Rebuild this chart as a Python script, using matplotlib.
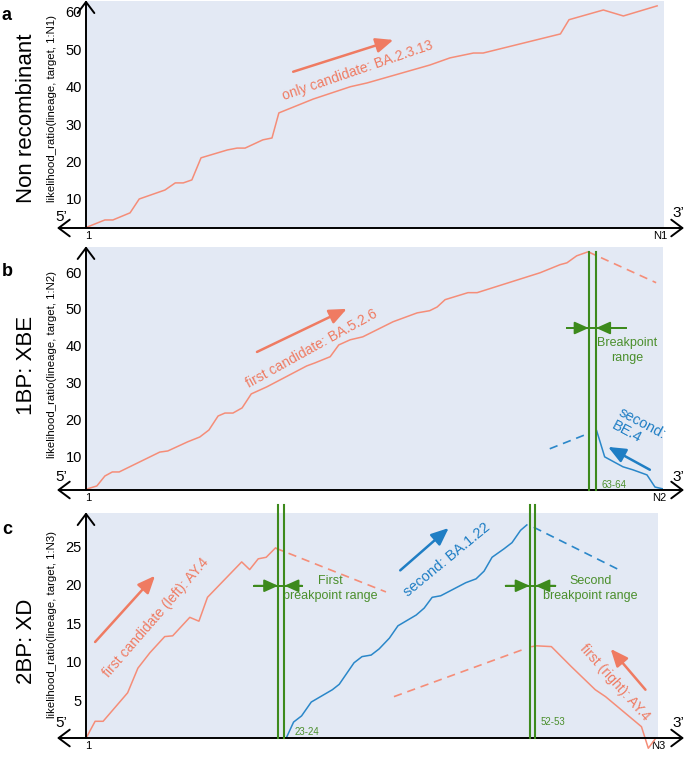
import matplotlib.pyplot as plt
from matplotlib import font_manager

W, H = 685, 763

# ---- data (x: position along genome in % of N, y: likelihood ratio) ----
# panel a: non recombinant
a_x = [0.2, 3.3, 4.7, 7.7, 9.3, 13.8, 15.6, 17.0, 18.5, 20.1, 24.7, 26.4, 27.8, 30.9,
       32.5, 33.7, 39.7, 46.2, 49.1, 60.1, 63.6, 67.7, 69.4, 82.9, 84.4, 90.4, 93.9, 99.8]
a_y = [2.5, 4.4, 4.4, 6.3, 10.0, 12.4, 14.3, 14.3, 15.1, 21.0, 23.1, 23.6, 23.6, 25.8,
       26.3, 33.0, 36.7, 40.0, 41.0, 45.8, 47.7, 49.0, 49.0, 54.1, 57.9, 60.5, 58.9, 61.6]

# panel b: 1BP XBE
b1_x = [0.2, 1.9, 3.3, 4.6, 5.8, 12.9, 14.3, 17.8, 19.9, 21.5, 23.1, 24.3, 25.7, 27.3,
        28.9, 31.6, 38.6, 40.0, 42.7, 44.2, 46.2, 48.4, 53.7, 57.9, 60.1, 61.4, 62.8,
        66.8, 68.4, 79.4, 82.9, 84.1, 85.8, 87.8]
b1_y = [1.1, 1.9, 4.6, 5.7, 5.7, 11.1, 11.4, 13.9, 15.2, 17.1, 20.9, 21.7, 21.7, 23.1,
        26.9, 28.8, 34.5, 35.3, 37.0, 40.2, 41.6, 42.4, 46.5, 48.9, 49.5, 50.5, 52.5,
        54.4, 54.4, 59.8, 62.0, 62.5, 64.4, 65.5]
b1_dash_x = [87.8, 99.7]
b1_dash_y = [65.5, 57.1]
b2_x = [89.3, 90.7, 93.9, 95.6, 98.1, 99.5, 100.9]
b2_y = [16.9, 9.8, 7.1, 6.3, 4.9, 1.6, 1.1]
b2_dash_x = [81.1, 88.1]
b2_dash_y = [12.0, 16.3]
b_bp = [87.9, 89.2]

# panel c: 2BP XD
c1_x = [0.0, 1.6, 3.0, 7.3, 9.1, 11.2, 13.8, 15.2, 18.2, 19.8, 21.3, 27.3, 28.7, 30.2,
        31.6, 33.2]
c1_y = [0.1, 2.3, 2.3, 6.0, 9.2, 11.2, 13.3, 13.4, 15.8, 15.3, 18.4, 23.0, 22.0, 23.4,
        23.6, 24.8]
c1_dash_x = [33.2, 52.6]
c1_dash_y = [24.8, 19.1]
c2_x = [35.1, 36.4, 37.8, 39.5, 43.2, 44.4, 47.0, 48.4, 50.0, 51.4, 53.2, 54.7, 57.9,
        59.3, 60.7, 62.2, 66.6, 68.4, 69.8, 71.2, 73.3, 74.7, 76.2, 77.3]
c2_y = [0.1, 2.2, 3.0, 4.8, 6.4, 7.1, 9.9, 10.7, 10.9, 11.7, 13.1, 14.7, 16.1, 17.0,
        18.4, 18.6, 20.3, 20.8, 21.8, 23.6, 24.7, 25.5, 27.1, 27.8]
c2_dash_x = [78.5, 93.4]
c2_dash_y = [27.5, 22.0]
c3_x = [78.2, 79.0, 81.6, 85.1, 89.3, 91.1, 97.4, 98.6, 99.8]
c3_y = [12.0, 12.1, 12.0, 9.4, 6.4, 5.5, 1.6, -1.2, 0.0]
c3_dash_x = [54.0, 77.3]
c3_dash_y = [5.5, 11.8]
c_bp1 = [33.7, 34.8]
c_bp2 = [77.8, 78.8]

ticks_ab = [10, 20, 30, 40, 50, 60]
ticks_c = [5, 10, 15, 20, 25]

RED = '#f58d78'
RED_T = '#ef7b62'
BLUE = '#2a87c9'
BLUE_T = '#1f7ec4'
GREEN = '#3d8a1c'
GREEN_T = '#4b8f2c'
BG = '#e3e9f4'

plt.rcParams['font.family'] = ['Liberation Sans', 'DejaVu Sans']

# narrow face for the small green notes, if it is there
names = {f.name for f in font_manager.fontManager.ttflist}
if 'Liberation Sans Narrow' in names:
    NOTE = dict(family=['Liberation Sans Narrow', 'Liberation Sans'], fontsize=10)
else:
    NOTE = dict(fontsize=9)

fig = plt.figure(figsize=(W / 100, H / 100), dpi=100)


def box(left, top, right, bottom):
    return [left / W, 1 - bottom / H, (right - left) / W, (bottom - top) / H]


def setup(ax, xmax, ylo, yhi, ticks, nlab, ybot):
    ax.set_facecolor(BG)
    ax.set_xlim(0, xmax)
    ax.set_ylim(ylo, yhi)
    for s in ax.spines.values():
        s.set_visible(False)
    ax.set_yticks(ticks)
    ax.set_yticklabels([str(t) for t in ticks])
    ax.set_xticks([0.35, 100.3])
    ax.set_xticklabels(['1', nlab])
    ax.tick_params(axis='y', length=0, pad=3, labelsize=10.5)
    ax.tick_params(axis='x', length=0, pad=2, labelsize=8)
    # axis arrows
    ax.annotate('', xy=(684, H - ybot), xytext=(57, H - ybot), xycoords='figure pixels',
                arrowprops=dict(arrowstyle='<->,head_length=0.4,head_width=0.3',
                                lw=1.4, color='black', shrinkA=0, shrinkB=0,
                                mutation_scale=20), annotation_clip=False)
    ax.annotate('', xy=(0, 1.003), xytext=(0, 0), xycoords='axes fraction',
                arrowprops=dict(arrowstyle='->,head_length=0.4,head_width=0.3',
                                lw=1.4, color='black', shrinkA=0, shrinkB=0,
                                mutation_scale=20), annotation_clip=False)


def arrow(ax, x0, y0, x1, y1, color, lw=1.8, hl=0.75, hw=0.32):
    ax.annotate('', xy=(x1, y1), xytext=(x0, y0),
                arrowprops=dict(arrowstyle=f'-|>,head_length={hl},head_width={hw}',
                                lw=lw, color=color, shrinkA=0, shrinkB=0,
                                mutation_scale=14), annotation_clip=False)


def breakpoint(ax, xs, ytop, ybot, yarr, xl, xr):
    for x in xs:
        ax.plot([x, x], [ybot, ytop], color=GREEN, lw=1.5, clip_on=False, zorder=4)
    ax.plot([xl, xr], [yarr, yarr], color=GREEN, lw=1.4, zorder=4)
    arrow(ax, xl, yarr, xs[0], yarr, GREEN, lw=1.4, hl=0.6, hw=0.27)
    arrow(ax, xr, yarr, xs[1], yarr, GREEN, lw=1.4, hl=0.6, hw=0.27)


dash = (0, (5, 3.5))

# ---------------- panel a ----------------
ax_a = fig.add_axes(box(86, 1, 664, 228))
setup(ax_a, 101.0, 2.25, 62.9, ticks_ab, 'N1', 228)
ax_a.plot(a_x, a_y, color=RED, lw=1.1)
arrow(ax_a, 36.2, 44.0, 53.7, 52.5, RED_T)
ax_a.text(47.5, 44.4, 'only candidate: BA.2.3.13', color=RED_T, fontsize=10,
          rotation=19, ha='center', va='center', rotation_mode='anchor')

# ---------------- panel b ----------------
ax_b = fig.add_axes(box(86, 247, 663, 490))
setup(ax_b, 100.9, 0.8, 66.8, ticks_ab, 'N2', 490)
ax_b.plot(b1_x, b1_y, color=RED, lw=1.1)
ax_b.plot(b1_dash_x, b1_dash_y, color=RED, lw=1.2, ls=dash)
ax_b.plot(b2_x, b2_y, color=BLUE, lw=1.1)
ax_b.plot(b2_dash_x, b2_dash_y, color=BLUE, lw=1.2, ls=dash)
breakpoint(ax_b, b_bp, 65.5, 0.8, 44.8, 84.1, 94.4)
arrow(ax_b, 29.9, 38.3, 45.6, 50.0, RED_T)
ax_b.text(39.5, 39.1, 'first candidate: BA.5.2.6', color=RED_T, fontsize=10,
          rotation=29, ha='center', va='center', rotation_mode='anchor')
arrow(ax_b, 98.6, 6.3, 91.3, 12.5, BLUE_T)
ax_b.text(96.7, 17.1, 'second:\nBE.4', color=BLUE_T, fontsize=10.5, rotation=-28,
          ha='center', va='center', rotation_mode='anchor', multialignment='left',
          linespacing=1.0)
ax_b.text(94.6, 38.6, 'Breakpoint\nrange', color=GREEN_T, ha='center', va='center',
          linespacing=1.3, **NOTE)
ax_b.text(90.2, 2.2, '63-64', color=GREEN_T, fontsize=7, ha='left', va='center')

# ---------------- panel c ----------------
ax_c = fig.add_axes(box(86, 513, 658, 738))
setup(ax_c, 100.0, 0.13, 29.35, ticks_c, 'N3', 738)
ax_c.plot(c1_x, c1_y, color=RED, lw=1.1)
ax_c.plot(c1_dash_x, c1_dash_y, color=RED, lw=1.2, ls=dash)
ax_c.plot(c2_x, c2_y, color=BLUE, lw=1.1)
ax_c.plot(c2_dash_x, c2_dash_y, color=BLUE, lw=1.2, ls=dash)
ax_c.plot(c3_x, c3_y, color=RED, lw=1.1, clip_on=False)
ax_c.plot(c3_dash_x, c3_dash_y, color=RED, lw=1.2, ls=dash)
breakpoint(ax_c, c_bp1, 30.4, 0.13, 19.9, 29.5, 37.9)
breakpoint(ax_c, c_bp2, 30.4, 0.13, 19.9, 73.6, 82.3)
arrow(ax_c, 1.6, 12.6, 12.1, 21.2, RED_T)
ax_c.text(12.2, 15.7, 'first candidate (left): AY.4', color=RED_T, fontsize=10,
          rotation=49, ha='center', va='center', rotation_mode='anchor')
arrow(ax_c, 55.1, 21.9, 63.6, 27.4, BLUE_T)
ax_c.text(63.3, 23.3, 'second: BA.1.22', color=BLUE_T, fontsize=10.5,
          rotation=39.5, ha='center', va='center', rotation_mode='anchor')
arrow(ax_c, 98.1, 6.4, 92.0, 11.7, RED_T)
ax_c.text(92.8, 7.4, 'first (right): AY.4', color=RED_T, fontsize=10,
          rotation=-48, ha='center', va='center', rotation_mode='anchor')
ax_c.text(42.8, 19.5, 'First\nbreakpoint range', color=GREEN_T, ha='center',
          va='center', linespacing=1.3, **NOTE)
ax_c.text(88.5, 19.5, 'Second\nbreakpoint range', color=GREEN_T, ha='center',
          va='center', linespacing=1.3, **NOTE)
ax_c.text(36.5, 0.9, '23-24', color=GREEN_T, fontsize=7, ha='left', va='center')
ax_c.text(79.7, 2.2, '52-53', color=GREEN_T, fontsize=7, ha='left', va='center')

# ---------------- side labels ----------------
def ftext(px, py, s, **kw):
    fig.text(px / W, 1 - py / H, s, **kw)


for letter, py in [('a', 15), ('b', 271), ('c', 529)]:
    ftext(7, py, letter, fontsize=13, fontweight='bold', ha='center', va='center')

titles = [('Non recombinant', 118), ('1BP: XBE', 365), ('2BP: XD', 641)]
for s, py in titles:
    ftext(27, py, s, fontsize=16, rotation=90, ha='center', va='center')

ylabs = [('likelihood_ratio(lineage, target, 1:N1)', 109),
         ('likelihood_ratio(lineage, target, 1:N2)', 364),
         ('likelihood_ratio(lineage, target, 1:N3)', 625)]
for s, py in ylabs:
    ftext(52, py, s, fontsize=8.2, rotation=90, ha='center', va='center')

for y5, y3 in [(217, 213), (477, 477), (723, 723)]:
    ftext(61, y5, '5\u2019', fontsize=11, ha='center', va='center')
    ftext(678, y3, '3\u2019', fontsize=11, ha='center', va='center')

fig.savefig('out.png', dpi=100, facecolor='white')
